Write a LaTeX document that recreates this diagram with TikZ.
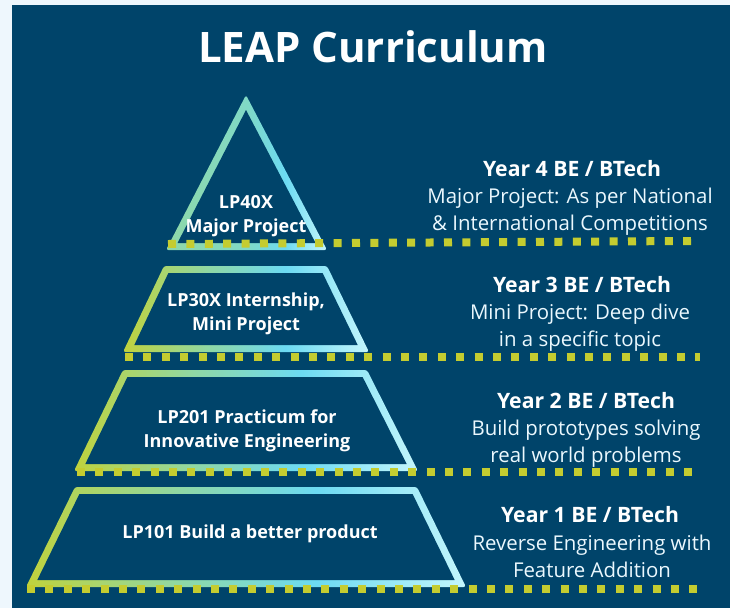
\documentclass[tikz,border=0pt]{standalone}
\usepackage{fontspec}
\setmainfont{Open Sans}
\usepackage{tikz}
\usetikzlibrary{positioning, calc}
\definecolor{LeapNavy}{RGB}{0,68,106}
\definecolor{PageTint}{RGB}{238,247,253}
\definecolor{DotOlive}{RGB}{196,204,48}
\definecolor{GradYellow}{RGB}{192,210,60}
\definecolor{GradMint}{RGB}{142,216,168}
\definecolor{GradCyan}{RGB}{108,218,242}
\definecolor{GradLight}{RGB}{196,246,252}
\pgfdeclarehorizontalshading{leapgrad}{100bp}{color(0bp)=(GradYellow); color(25bp)=(GradYellow); color(43bp)=(GradMint); color(58bp)=(GradCyan); color(75bp)=(GradLight); color(100bp)=(GradLight)}
\pgfdeclarehorizontalshading{leapgradtop}{100bp}{color(0bp)=(GradMint); color(25bp)=(GradMint); color(50bp)=(GradMint!60!GradCyan); color(62bp)=(GradCyan); color(75bp)=(GradLight); color(100bp)=(GradLight)}
% one level of the pyramid: top-left x, top-right x, bottom-left x, bottom-right x, top y, bottom y
\newcommand{\leaplevel}[6]{%
  \shade[shading=leapgrad, rounded corners=2.5] (#1,#5) -- (#2,#5) -- (#4,#6) -- (#3,#6) -- cycle;
  \fill[LeapNavy] ({#1+4.4},{#5+7}) -- ({#2-4.4},{#5+7}) -- ({#4-11.3},{#6-7}) -- ({#3+11.3},{#6-7}) -- cycle;
}

\begin{document}
\begin{tikzpicture}[x=1pt, y=-1pt,
    leapdots/.style={DotOlive, line width=8, dash pattern=on 8 off 10.4},
    levellabel/.style={white, align=center, anchor=base, inner sep=0, font=\fontsize{18}{24}\selectfont\bfseries},
    yearhead/.style={white, anchor=base, inner sep=0, font=\fontsize{21.2}{27}\selectfont\bfseries},
    yeartext/.style={white!92!cyan, align=center, anchor=base, inner sep=0, font=\fontsize{20.4}{27}\selectfont}]
  \useasboundingbox (0,0) rectangle (730,608);
  \fill[PageTint] (0,0) rectangle (730,608);
  \fill[LeapNavy] (12,5) rectangle (730,608);

  \node[white, anchor=base, inner sep=0, font=\fontsize{42}{50}\selectfont\bfseries] (title) at (373,62) {LEAP Curriculum};

  % pyramid
  \shade[shading=leapgradtop, rounded corners=2.5] (246,95) -- (327,250) -- (166,250) -- cycle;
  \fill[LeapNavy] (246,110) -- (315.6,243) -- (177.5,243) -- cycle;
  \leaplevel{164}{327}{123}{369}{266}{352}
  \leaplevel{123}{367}{74}{418}{370}{471}
  \leaplevel{75}{417}{26}{466}{487}{587}

  % dotted guide lines
  \coordinate (d4s) at (168,244);
  \coordinate (d4e) at (691,241);
  \coordinate (d3s) at (125,357);
  \coordinate (d3e) at (700,357);
  \coordinate (d2s) at (77,472);
  \coordinate (d2e) at (694,472);
  \coordinate (d1s) at (27,589);
  \coordinate (d1e) at (698,589);
  \draw[leapdots] (d4s) -- (d4e);
  \draw[leapdots] (d3s) -- (d3e);
  \draw[leapdots] (d2s) -- (d2e);
  \draw[leapdots] (d1s) -- (d1e);

  % level labels (base = last line)
  \node[levellabel] (lp40x) at (246,232) {LP40X\\Major Project};
  \node[levellabel] (lp30x) at (246,330) {LP30X Internship,\\Mini Project};
  \node[levellabel] (lp201) at (247,447) {LP201 Practicum for\\Innovative Engineering};
  \node[levellabel] (lp101) at (250,538) {LP101 Build a better product};

  % year descriptions
  \node[yearhead] (year4) at (572,176) {Year 4 BE / BTech};
  \node[yeartext] (year4txt) at (570,230) {Major Project: As per National\\\& International Competitions};
  \node[yearhead] (year3) at (582,292) {Year 3 BE / BTech};
  \node[yeartext] (year3txt) at (580,346) {Mini Project: Deep dive\\in a specific topic};
  \node[yearhead] (year2) at (586,408) {Year 2 BE / BTech};
  \node[yeartext] (year2txt) at (586,462) {Build prototypes solving\\real world problems};
  \node[yearhead] (year1) at (590,522) {Year 1 BE / BTech};
  \node[yeartext] (year1txt) at (592,577) {Reverse Engineering with\\Feature Addition};
\end{tikzpicture}
\end{document}
